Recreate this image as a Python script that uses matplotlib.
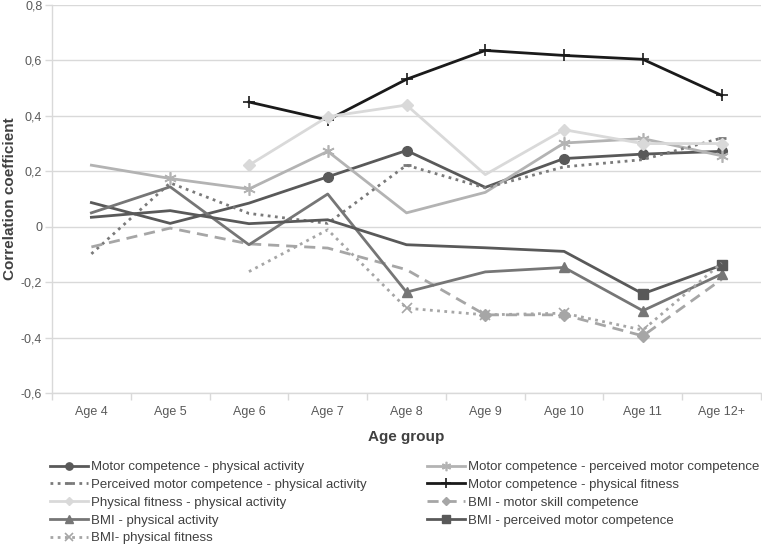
import matplotlib
matplotlib.use("Agg")
import matplotlib.pyplot as plt
import numpy as np

plt.rcParams['font.family'] = ['Liberation Sans', 'DejaVu Sans']

ages = ["Age 4", "Age 5", "Age 6", "Age 7", "Age 8", "Age 9", "Age 10", "Age 11", "Age 12+"]
y_ticks = [-0.6, -0.4, -0.2, 0.0, 0.2, 0.4, 0.6, 0.8]
y_tick_labels = ["-0,6", "-0,4", "-0,2", "0", "0,2", "0,4", "0,6", "0,8"]
nan = np.nan

mc_pa = [0.087, 0.012, 0.085, 0.180, 0.275, 0.142, 0.246, 0.262, 0.272]
mc_pmc = [0.222, 0.174, 0.136, 0.272, 0.050, 0.124, 0.302, 0.318, 0.256]
pmc_pa = [-0.098, 0.158, 0.048, 0.012, 0.222, 0.140, 0.216, 0.242, 0.320]
mc_pf = [nan, nan, 0.450, 0.385, 0.532, 0.636, 0.618, 0.604, 0.474]
pf_pa = [nan, nan, 0.222, 0.397, 0.439, 0.188, 0.350, 0.300, 0.300]
bmi_msc = [-0.073, -0.005, -0.062, -0.077, -0.155, -0.318, -0.318, -0.394, -0.190]
bmi_pa = [0.050, 0.144, -0.065, 0.118, -0.236, -0.163, -0.147, -0.303, -0.171]
bmi_pmc = [0.034, 0.058, 0.011, 0.025, -0.065, -0.076, -0.089, -0.242, -0.139]
bmi_pf = [nan, nan, -0.162, -0.011, -0.294, -0.318, -0.312, -0.373, -0.131]

fig = plt.figure(figsize=(7.62, 5.47), dpi=100)
ax = fig.add_axes([52/762, 1-393/547, (761-52)/762, (393-5)/547])

x = np.arange(len(ages))
lw = 2.0

h = {}
h['mc_pa'], = ax.plot(x, mc_pa, color='#595959', lw=lw, marker='o', ms=7,
                      markevery=[3, 4, 6, 7, 8], label='Motor competence - physical activity')
h['mc_pmc'], = ax.plot(x, mc_pmc, color='#b3b3b3', lw=lw, marker=(6, 2, 0), ms=9, mew=1.2,
                       markevery=[1, 2, 3, 6, 7, 8], label='Motor competence - perceived motor competence')
h['pmc_pa'], = ax.plot(x, pmc_pa, color='#7a7a7a', lw=2.0, ls=(0, (1, 1.6)), marker='_', ms=6, mew=2,
                       markevery=[4, 8], label='Perceived motor competence - physical activity')
h['mc_pf'], = ax.plot(x, mc_pf, color='#1a1a1a', lw=lw, marker='+', ms=9, mew=1.2,
                      label='Motor competence - physical fitness')
h['pf_pa'], = ax.plot(x, pf_pa, color='#d9d9d9', lw=lw, marker='D', ms=6,
                      markevery=[2, 3, 4, 6, 7, 8], label='Physical fitness - physical activity')
h['bmi_msc'], = ax.plot(x, bmi_msc, color='#a6a6a6', lw=lw, ls=(0, (4, 2.5)), marker='D', ms=6,
                        markevery=[5, 6, 7], label='BMI - motor skill competence')
h['bmi_pa'], = ax.plot(x, bmi_pa, color='#767676', lw=lw, marker='^', ms=7,
                       markevery=[4, 6, 7, 8], label='BMI - physical activity')
h['bmi_pmc'], = ax.plot(x, bmi_pmc, color='#595959', lw=lw, marker='s', ms=7,
                        markevery=[7, 8], label='BMI - perceived motor competence')
h['bmi_pf'], = ax.plot(x, bmi_pf, color='#a6a6a6', lw=2.0, ls=(0, (1, 1.6)), marker='x', ms=7, mew=1.2,
                       markevery=[4, 5, 6, 7], label='BMI- physical fitness')

ax.set_xlim(-0.5, len(ages) - 0.5)
ax.set_ylim(-0.6, 0.8)
ax.set_yticks(y_ticks)
ax.set_yticklabels(y_tick_labels)
ax.set_xticks(x)
ax.set_xticklabels(ages)
ax.set_xticks(np.arange(len(ages) + 1) - 0.5, minor=True)
ax.tick_params(axis='x', which='major', length=0, pad=9, labelsize=9, labelcolor='#595959')
ax.tick_params(axis='x', which='minor', length=5, color='#d9d9d9', width=1)
ax.tick_params(axis='y', length=5, color='#d9d9d9', width=1, pad=2, labelsize=9, labelcolor='#595959')
ax.grid(axis='y', color='#d9d9d9', lw=1)
ax.set_axisbelow(True)
for s in ['top', 'right']:
    ax.spines[s].set_visible(False)
for s in ['left', 'bottom']:
    ax.spines[s].set_color('#d9d9d9')
    ax.spines[s].set_linewidth(1)

ax.set_ylabel('Correlation coefficient', fontsize=11, fontweight='bold', color='#404040', labelpad=3)
ax.set_xlabel('Age group', fontsize=11, fontweight='bold', color='#404040', labelpad=9)

order = ['mc_pa', 'pmc_pa', 'pf_pa', 'bmi_pa', 'bmi_pf', 'mc_pmc', 'mc_pf', 'bmi_msc', 'bmi_pmc']
handles = [h[k] for k in order]
leg = fig.legend(handles=handles, labels=[hh.get_label() for hh in handles], ncol=2,
                 loc='upper left', bbox_to_anchor=(50/762, 1-461/547), frameon=False,
                 fontsize=9.5, handlelength=2.9, handletextpad=0.2, columnspacing=4.6,
                 labelspacing=0.42, borderpad=0, borderaxespad=0, markerscale=0.75)
for t in leg.get_texts():
    t.set_color('#404040')

fig.savefig('out.png', dpi=100)
